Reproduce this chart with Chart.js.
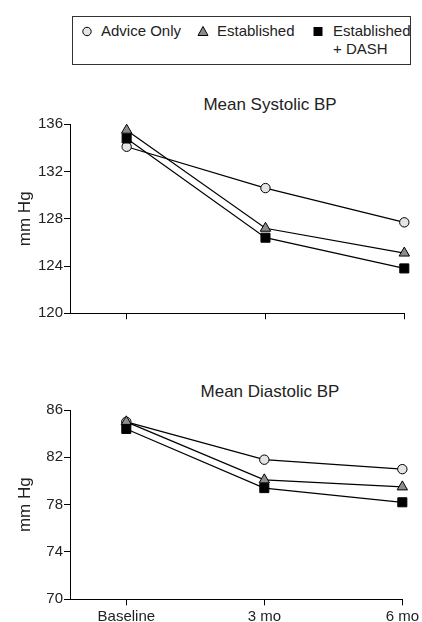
<!DOCTYPE html>
<html><head><meta charset="utf-8">
<script src="https://cdn.jsdelivr.net/npm/chart.js@4"></script>
<style>
html,body{margin:0;padding:0;background:#fff;}
body{width:422px;height:622px;position:relative;overflow:hidden;font-family:"Liberation Sans",Arial,sans-serif;color:#222;}
.abs{position:absolute;}
#legend{left:72px;top:16px;width:339px;height:49px;border:1px solid #333;box-sizing:border-box;}
.lt{position:absolute;font-size:15px;line-height:18px;white-space:nowrap;}
.ttl{position:absolute;left:170px;width:200px;text-align:center;font-size:17px;line-height:20px;}
</style></head>
<body>
<div id="legend" class="abs"></div>
<div class="lt" style="left:101px;top:22px">Advice Only</div>
<div class="lt" style="left:217px;top:22px">Established</div>
<div class="lt" style="left:333px;top:22px">Established<br>+ DASH</div>
<svg class="abs" style="left:0;top:0" width="422" height="70">
  <circle cx="87" cy="31.5" r="4.2" fill="#e4e4e4" stroke="#000" stroke-width="1"/>
  <polygon points="203,26.5 208,35.5 198,35.5" fill="#8c8c8c" stroke="#000" stroke-width="1"/>
  <rect x="313.5" y="27" width="9" height="9" fill="#000"/>
</svg>
<div class="ttl" style="top:95px">Mean Systolic BP</div>
<div class="ttl" style="top:382px">Mean Diastolic BP</div>
<div class="abs" style="left:0;top:110px;width:422px;height:220px"><canvas id="c1"></canvas></div>
<div class="abs" style="left:0;top:380px;width:422px;height:242px"><canvas id="c2"></canvas></div>
<script>
const categories = ['Baseline', '3 mo', '6 mo'];
const seriesNames = ['Advice Only', 'Established', 'Established + DASH'];
const systolicAdvice = [134.1, 130.6, 127.7];
const systolicEstablished = [135.5, 127.2, 125.1];
const systolicDash = [134.8, 126.4, 123.8];
const diastolicAdvice = [85.0, 81.8, 81.0];
const diastolicEstablished = [85.0, 80.1, 79.5];
const diastolicDash = [84.4, 79.4, 78.2];
const systolicTicks = [120, 124, 128, 132, 136];
const diastolicTicks = [70, 74, 78, 82, 86];

const styles = [
  {pointStyle:'circle', pointRadius:4.7, bg:'#e4e4e4', order:3},
  {pointStyle:'triangle', pointRadius:6, bg:'#8c8c8c', order:2},
  {pointStyle:'rect', pointRadius:6.4, bg:'#000', order:1}
];

function makeChart(id, series, ticks, showLabels, padTop, padBottom, xHeight) {
  const datasets = series.map((vals, k) => ({
    label: seriesNames[k],
    data: vals.map((v, i) => ({x: i, y: v})),
    borderColor: '#000',
    borderWidth: 1.2,
    pointStyle: styles[k].pointStyle,
    pointRadius: styles[k].pointRadius,
    pointBackgroundColor: styles[k].bg,
    pointBorderColor: '#000',
    pointBorderWidth: 1,
    order: styles[k].order,
    clip: false,
    tension: 0
  }));
  return new Chart(document.getElementById(id), {
    type: 'line',
    data: {datasets},
    options: {
      responsive: true,
      maintainAspectRatio: false,
      animation: false,
      devicePixelRatio: 1,
      layout: {padding: {top: padTop, bottom: padBottom, right: 17.7, left: 0}},
      plugins: {legend: {display: false}, tooltip: {enabled: false}, title: {display: false}},
      scales: {
        x: {
          type: 'linear',
          min: -0.408, max: 2,
          afterBuildTicks: s => { s.ticks = categories.map((c, i) => ({value: i})); },
          afterFit: s => { s.height = xHeight; },
          grid: {display: true, drawOnChartArea: false, drawTicks: true, tickLength: 6, color: '#000', lineWidth: 1},
          border: {display: true, color: '#000', width: 1},
          ticks: {
            display: showLabels,
            autoSkip: false,
            maxRotation: 0,
            padding: 3,
            color: '#222',
            font: {family: '"Liberation Sans", Arial, sans-serif', size: 15},
            callback: v => categories[v] !== undefined ? categories[v] : ''
          }
        },
        y: {
          min: ticks[0], max: ticks[ticks.length - 1],
          afterBuildTicks: s => { s.ticks = ticks.map(v => ({value: v})); },
          afterFit: s => { s.width = 70; },
          grid: {display: true, drawOnChartArea: false, drawTicks: true, tickLength: 6, color: '#000', lineWidth: 1},
          border: {display: true, color: '#000', width: 1},
          ticks: {
            padding: 1,
            color: '#222',
            font: {family: '"Liberation Sans", Arial, sans-serif', size: 15}
          },
          title: {
            display: true,
            text: 'mm Hg',
            color: '#222',
            padding: {top: 14.8, bottom: 0},
            font: {family: '"Liberation Sans", Arial, sans-serif', size: 17}
          }
        }
      }
    }
  });
}

makeChart('c1', [systolicAdvice, systolicEstablished, systolicDash], systolicTicks, false, 14.3, 10.7, 6);
makeChart('c2', [diastolicAdvice, diastolicEstablished, diastolicDash], diastolicTicks, true, 30, 0, 22.7);
</script>
</body></html>
